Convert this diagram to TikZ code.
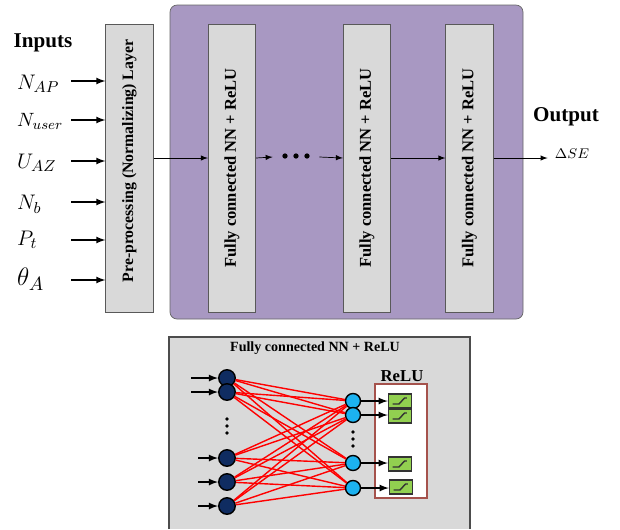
\documentclass[tikz,border=0pt]{standalone}
\usepackage{fontspec}
\setmainfont{Liberation Serif}

\definecolor{panel}{HTML}{A898C2}
\definecolor{boxgray}{HTML}{D9D9D9}
\definecolor{navy}{HTML}{0F2C61}
\definecolor{sky}{HTML}{1CB2F0}
\definecolor{leaf}{HTML}{92D050}
\definecolor{brick}{HTML}{A5524C}

\begin{document}
\begin{tikzpicture}[
	x=0.02cm, y=-0.02cm, >=latex,
	layer/.style={ draw=black!65, fill=boxgray, inner sep=0pt, minimum width=0.95cm, minimum height=5.76cm },
	vlabel/.style={ rotate=90, font=\bfseries\fontsize{9.4}{10}\selectfont },
	inneuron/.style={ circle, draw, thick, fill=navy, inner sep=0pt, minimum size=0.33cm },
	outneuron/.style={ circle, draw, thick, fill=sky, inner sep=0pt, minimum size=0.3cm },
	relu/.style={ draw=black!80, thick, fill=leaf, inner sep=0pt, minimum width=0.46cm, minimum height=0.28cm,
		path picture={\draw[thick] ([xshift=-0.15cm,yshift=-0.06cm]path picture bounding box.center)
			-- ++(0.13cm,0cm) -- ++(0.11cm,0.12cm) -- ++(0.05cm,0cm);} },
	wire/.style={ red, thick }
]
\useasboundingbox (0,0) rectangle (620,529);

% network block
\draw[rounded corners=4pt, fill=panel, draw=black!60] (170,5) rectangle (523,319);

\node at (43,43) (inputs) [font=\bfseries\fontsize{12}{14}\selectfont] {Inputs};
\node at (11,84) (nap) [anchor=west, font=\fontsize{13}{14}\selectfont] {$N_{AP}$};
\node at (11,121) (nuser) [anchor=west, font=\fontsize{11}{13}\selectfont] {$N_{user}$};
\node at (11,163) (uaz) [anchor=west, font=\fontsize{13}{14}\selectfont] {$U_{AZ}$};
\node at (11,204) (nb) [anchor=west, font=\fontsize{13}{14}\selectfont] {$N_b$};
\node at (11,240) (pt) [anchor=west, font=\fontsize{13}{14}\selectfont] {$P_t$};
\node at (11,279) (tha) [anchor=west, font=\fontsize{15}{16}\selectfont] {$\theta_A$};

\node at (129.5,168) (pre) [layer, label={[vlabel, xshift=0.14cm, font=\bfseries\fontsize{9}{10}\selectfont]center:{Pre-processing (Normalizing) Layer}}] {};
\node at (232,168) (fc1) [layer, label={[vlabel]center:{Fully connected NN + ReLU}}] {};
\node at (367,168) (fc2) [layer, label={[vlabel]center:{Fully connected NN + ReLU}}] {};
\node at (469.5,168) (fc3) [layer, label={[vlabel]center:{Fully connected NN + ReLU}}] {};

\coordinate (t1) at (71,81);
\coordinate (t2) at (71,120);
\coordinate (t3) at (71,161);
\coordinate (t4) at (71,202);
\coordinate (t5) at (71,240);
\coordinate (t6) at (71,280);
\foreach \k in {1,...,6}
	\draw[->, thick] (t\k) -- (t\k -| pre.west);

\node at (296,157) (dots) [minimum width=0.92cm, minimum height=0.2cm, inner sep=0pt] {};
\foreach \x in {285,296,307}
	\fill (\x,156) circle (1.5pt);

\draw[->] ([yshift=0.2cm]pre.east) -- ([yshift=0.2cm]fc1.west);
\draw[->] ([yshift=0.2cm]fc1.east) -- (dots.west);
\draw[->] (dots.east) -- ([yshift=0.2cm]fc2.west);
\draw[->] ([yshift=0.2cm]fc2.east) -- ([yshift=0.2cm]fc3.west);
\draw[->] ([yshift=0.2cm]fc3.east) -- ++(1.08cm,0cm);

\node at (566,117) (output) [font=\bfseries\fontsize{12}{14}\selectfont] {Output};
\node at (572,154) (dse) [font=\fontsize{8}{9}\selectfont] {$\Delta SE$};

% one fully connected layer in detail
\fill[boxgray] (169,337) rectangle (470,529);
\draw[black!70, thick] (169,529) -- (169,337) -- (470,337) -- (470,529);
\node at (315,348) (title) [font=\bfseries\fontsize{8}{9}\selectfont] {Fully connected NN + ReLU};
\draw[brick, thick, fill=white] (375,384) rectangle (427,498);
\node at (402,376) (relutitle) [font=\bfseries\fontsize{9.5}{11}\selectfont] {ReLU};

\node at (227,378) (l1) [inneuron] {};
\node at (227,392) (l2) [inneuron] {};
\node at (227,458) (l3) [inneuron] {};
\node at (227,482) (l4) [inneuron] {};
\node at (227,506) (l5) [inneuron] {};

\node at (353,401) (r1) [outneuron] {};
\node at (353,415) (r2) [outneuron] {};
\node at (353,463) (r3) [outneuron] {};
\node at (353,488) (r4) [outneuron] {};

% elided neurons
\foreach \y in {419,426,433}
	\fill (227,\y) circle (1.1pt);
\foreach \y in {432,439,446}
	\fill (353,\y) circle (1.1pt);

\node at (400,401) (g1) [relu] {};
\node at (400,416) (g2) [relu] {};
\node at (400,464) (g3) [relu] {};
\node at (401,487) (g4) [relu] {};

\foreach \i/\len in {1/0.54,2/0.54,3/0.4,4/0.4,5/0.4}
	\draw[->, thick] ([xshift=-\len cm]l\i.west) -- (l\i);
\foreach \i in {1,...,5}
	\foreach \j in {1,...,4}
		\draw[wire] (l\i) -- (r\j);
\foreach \j in {1,...,4}
	\draw[->, thick] (r\j) -- (r\j -| g\j.west);

\end{tikzpicture}
\end{document}
